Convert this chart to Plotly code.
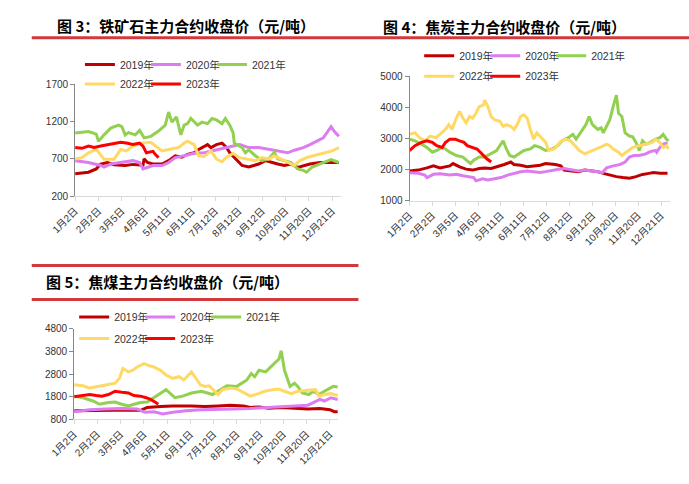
import plotly.graph_objects as go

W, H = 689, 484

years = ["2019年", "2020年", "2021年", "2022年", "2023年"]
colors = ["#C00000", "#DC7CF0", "#92D050", "#FFD966", "#FF0000"]

tick_days = [0, 21, 42, 63, 84, 105, 126, 147, 168, 189, 210, 231]
tick_labels = ["1月2日", "2月2日", "3月5日", "4月6日", "5月11日", "6月11日",
               "7月12日", "8月12日", "9月12日", "10月20日", "11月20日", "12月21日"]

# ---------------- 图3 铁矿石 ----------------
ore19_d = [0,12,19,23,29,35,45,52,61,62,65,70,78,84,90,96,101,107,111,119,122,127,132,136,139,145,150,156,161,165,171,176,182,188,194,200,205,211,220,228,237]
ore19_v = [500,520,565,630,650,620,610,625,615,700,650,630,630,675,740,720,760,780,825,890,850,890,910,850,780,680,610,590,610,630,675,650,630,610,630,585,610,630,650,650,650]
ore20_d = [0,12,23,26,32,41,52,58,61,70,78,84,90,98,107,116,124,133,142,148,156,165,174,179,185,191,197,205,211,217,223,230,233,237]
ore20_v = [675,650,610,590,630,650,675,650,565,610,610,650,715,740,775,780,805,835,870,890,850,850,825,805,795,780,815,850,890,935,980,1130,1065,1000]
ore21_d = [0,12,19,21,26,32,39,42,45,48,54,58,62,68,75,81,84,87,91,95,98,101,104,110,114,119,123,127,132,135,139,142,143,148,150,153,156,162,168,174,179,182,188,194,197,200,205,208,213,217,223,230,234,237]
ore21_v = [1044,1065,1030,935,1020,1110,1150,1130,1020,1050,1020,1080,980,1000,1070,1150,1325,1190,1260,1020,1150,1170,1240,1150,1190,1170,1240,1220,1170,1240,1150,1045,910,870,850,780,820,740,675,700,785,700,675,650,610,565,545,520,590,610,650,690,670,650]
ore22_d = [0,6,12,19,26,35,41,46,52,61,68,72,78,84,93,98,101,107,111,116,122,127,132,136,142,148,156,162,168,174,179,185,191,197,202,208,214,220,226,231,237]
ore22_v = [695,715,780,825,695,695,825,805,870,910,920,870,805,825,850,910,935,890,740,730,805,695,660,720,770,715,695,675,715,695,740,695,650,610,675,715,740,760,780,805,850]
ore23_d = [0,6,12,17,23,29,35,41,46,52,58,61,64,70,72,75]
ore23_v = [850,840,870,850,870,890,910,920,910,890,910,870,780,800,760,715]

# ---------------- 图4 焦炭 ----------------
coke19_d = [0,8,16,22,28,37,40,46,52,58,64,69,75,81,87,93,96,102,108,114,120,125,134,139,142,149,155,161,167,173,178,184,190,196,202,208,214,220,224,230,237]
coke19_v = [1950,1980,2050,2115,2050,2115,2190,2085,2010,1980,2030,2050,2030,2085,2160,2240,2160,2135,2085,2110,2135,2190,2160,2115,1980,1950,1930,1980,1950,1930,1875,1820,1770,1740,1720,1770,1840,1875,1900,1875,1875]
coke20_d = [0,8,14,16,22,28,37,43,49,55,59,61,67,72,78,84,90,96,102,108,114,120,125,131,137,142,149,155,161,167,173,177,181,187,193,198,202,206,211,217,221,226,227,230,233,237]
coke20_v = [1895,1875,1820,1740,1845,1860,1820,1845,1800,1770,1740,1635,1700,1665,1700,1740,1820,1875,1925,1950,1930,1905,1930,1980,2010,2030,1980,1950,1980,1960,1925,1895,2050,2115,2155,2240,2400,2450,2450,2500,2575,2610,2555,2710,2815,2850]
coke21_d = [0,5,11,16,21,25,30,33,37,43,49,53,56,59,64,69,75,80,83,86,89,92,96,100,105,111,115,120,125,131,136,140,146,150,153,158,162,165,168,173,176,178,181,184,187,190,192,195,198,202,205,208,211,214,217,221,226,230,233,236,238]
coke21_v = [2975,2920,2815,2710,2555,2610,2710,2660,2555,2450,2400,2295,2190,2295,2400,2400,2500,2610,2765,2920,2660,2450,2400,2500,2610,2660,2765,2710,2610,2660,2765,2920,3025,3130,2975,3235,3445,3705,3445,3290,3340,3180,3390,3600,4020,4390,3810,3705,3180,3075,3050,2870,2610,2920,2815,2870,2975,3025,3130,2975,2920]
coke22_d = [0,5,9,14,19,24,28,33,36,39,43,46,49,52,55,58,61,64,68,69,72,75,78,83,86,89,93,96,99,102,105,108,111,114,117,121,125,128,133,138,143,148,152,156,161,165,171,177,181,184,187,192,195,199,205,211,217,223,226,230,233,236,238]
coke22_v = [3130,3180,3025,2920,3075,3025,3130,3290,3445,3290,3655,3865,3655,3500,3705,3650,3810,4020,4075,4230,4020,3705,3600,3550,3390,3440,3390,3290,3445,3705,3760,3655,3290,2975,3180,3025,2870,2610,2660,2870,2975,2920,2765,2610,2500,2555,2660,2745,2815,2765,2660,2555,2450,2555,2710,2765,2815,2870,2975,2870,2710,2765,2660]
coke23_d = [0,5,11,16,21,25,30,33,37,42,46,50,53,58,62,65,68,71,75]
coke23_v = [2610,2765,2870,2920,2870,2765,2710,2870,2975,2975,2920,2870,2765,2710,2660,2555,2450,2345,2240]

# ---------------- 图5 焦煤 ----------------
coal19_d = [0,14,28,43,54,60,66,78,89,106,118,130,141,153,159,167,176,187,199,211,222,231,235,238]
coal19_v = [1185,1200,1220,1230,1220,1200,1330,1370,1400,1400,1370,1400,1430,1400,1330,1355,1300,1330,1285,1260,1285,1230,1145,1145]
coal20_d = [0,14,28,43,57,64,72,80,89,101,115,130,144,159,173,185,193,202,211,216,222,226,232,238]
coal20_v = [1145,1230,1260,1285,1260,1115,1140,1040,1115,1185,1230,1230,1260,1285,1330,1370,1400,1400,1430,1545,1685,1615,1760,1685]
coal21_d = [0,8,17,23,31,37,43,49,54,60,66,72,78,83,88,91,98,106,115,121,125,132,138,147,156,160,163,167,173,179,185,187,190,192,195,199,202,206,212,216,221,226,232,234,238]
coal21_v = [1830,1760,1615,1470,1545,1570,1470,1400,1470,1545,1570,1760,1970,2115,1900,1760,1830,1970,2045,1970,1900,2115,2285,2260,2545,2830,2685,2970,2900,3185,3470,3830,2970,2685,2260,2400,2260,1970,1900,2045,1900,2045,2185,2260,2230]
coal22_d = [0,8,14,23,31,37,41,44,49,53,57,63,67,72,78,83,89,95,99,104,106,109,114,118,122,127,130,134,141,147,153,159,164,172,179,185,190,196,202,209,218,221,226,232,238]
coal22_v = [2330,2285,2185,2260,2330,2400,2615,3045,2900,2970,3115,3260,3185,3115,2970,2760,2615,2685,2545,2830,2900,2685,2330,2260,2285,2045,1900,2115,2185,2145,1970,1830,1900,2045,2115,2145,2045,1940,2045,2085,2115,1830,1900,1940,1855]
coal23_d = [0,7,14,20,25,31,37,43,49,54,60,65,69,73,76]
coal23_v = [1800,1855,1900,1855,1830,1900,2045,2000,1970,1855,1830,1760,1685,1570,1470]

charts = [
    dict(title="<b>图 3：铁矿石主力合约收盘价（元/吨）</b>",
         series=[(ore19_d, ore19_v), (ore20_d, ore20_v), (ore21_d, ore21_v), (ore22_d, ore22_v), (ore23_d, ore23_v)],
         yticks=[200, 700, 1200, 1700]),
    dict(title="<b>图 4：焦炭主力合约收盘价（元/吨）</b>",
         series=[(coke19_d, coke19_v), (coke20_d, coke20_v), (coke21_d, coke21_v), (coke22_d, coke22_v), (coke23_d, coke23_v)],
         yticks=[1000, 2000, 3000, 4000, 5000]),
    dict(title="<b>图 5：焦煤主力合约收盘价（元/吨）</b>",
         series=[(coal19_d, coal19_v), (coal20_d, coal20_v), (coal21_d, coal21_v), (coal22_d, coal22_v), (coal23_d, coal23_v)],
         yticks=[800, 1800, 2800, 3800, 4800]),
]

for c in charts:
    for d, v in c["series"]:
        assert len(d) == len(v), (len(d), len(v))

def px(p):
    return p / W

def py(p):
    return 1 - p / H

# layout geometry (pixels)
geom = [
    dict(x0=52, x1=328, y0=80, y1=195, xmax=239, title_xy=(31, 20), leg=(57, 60, 80)),
    dict(x0=399, x1=669, y0=72, y1=199.5, xmax=239, title_xy=(369, 21), leg=(409, 51, 72)),
    dict(x0=51, x1=325, y0=331, y1=424, xmax=238.5, title_xy=(20, 282), leg=(51, 319, 341)),
]

fig = go.Figure()
font_fam = "Liberation Sans, Arial, Noto Sans CJK SC, sans-serif"
layout = dict(
    width=W, height=H, margin=dict(l=0, r=0, t=0, b=0),
    paper_bgcolor="white", plot_bgcolor="white",
    font=dict(family=font_fam, size=10, color="#333333"),
    showlegend=True, annotations=[], shapes=[],
)

legend_names = ["legend", "legend2", "legend3", "legend4", "legend5", "legend6"]

for i, (c, g) in enumerate(zip(charts, geom)):
    xa = "xaxis" if i == 0 else f"xaxis{i+1}"
    ya = "yaxis" if i == 0 else f"yaxis{i+1}"
    xr = "x" if i == 0 else f"x{i+1}"
    yr = "y" if i == 0 else f"y{i+1}"
    layout[xa] = dict(
        domain=[px(g["x0"]), px(g["x1"])], range=[0, g["xmax"]], anchor=yr,
        tickmode="array", tickvals=tick_days, ticktext=tick_labels, tickangle=-45,
        showline=True, linecolor="#d9d9d9", linewidth=1, ticks="outside", ticklen=4,
        tickcolor="#d9d9d9", showgrid=False, zeroline=False,
        tickfont=dict(size=10, color="#333333"),
    )
    yt = c["yticks"]
    layout[ya] = dict(
        domain=[py(g["y1"]), py(g["y0"])], range=[yt[0], yt[-1]], anchor=xr,
        tickmode="array", tickvals=yt,
        showline=True, linecolor="#888888", linewidth=1, ticks="outside", ticklen=4,
        tickcolor="#888888", showgrid=False, zeroline=False,
        tickfont=dict(size=10, color="#333333"),
    )
    lx, ly1, ly2 = g["leg"]
    for r, ly in enumerate((ly1, ly2)):
        layout[legend_names[2 * i + r]] = dict(
            orientation="h", x=px(lx), y=py(ly), xanchor="left", yanchor="middle",
            entrywidth=21, entrywidthmode="pixels", itemwidth=30,
            bgcolor="rgba(0,0,0,0)", borderwidth=0,
            font=dict(size=10.5, color="#333333", family=font_fam),
            traceorder="normal",
        )
    for k, (d, v) in enumerate(c["series"]):
        last_in_row = k in (2, 4)
        fig.add_trace(go.Scatter(
            x=d, y=v, mode="lines", name=years[k],
            line=dict(color=colors[k], width=3),
            xaxis=xr, yaxis=yr,
            legend=legend_names[2 * i + (0 if k < 3 else 1)],
            legendwidth=40 if last_in_row else 21,
            hoverinfo="skip",
        ))
    tx, ty = g["title_xy"]
    layout["annotations"].append(dict(
        text=c["title"], x=px(tx), y=py(ty), xref="paper", yref="paper",
        xanchor="left", yanchor="middle", align="left", width=300, showarrow=False,
        font=dict(size=15, color="#000000", family="Noto Sans CJK SC, sans-serif"),
    ))

red = "#D2393C"
layout["shapes"] = [
    dict(type="line", xref="paper", yref="paper", x0=px(7), x1=px(689), y0=py(32.5), y1=py(32.5),
         line=dict(color=red, width=3)),
    dict(type="line", xref="paper", yref="paper", x0=px(7), x1=px(346), y0=py(266), y1=py(266),
         line=dict(color=red, width=3)),
    dict(type="line", xref="paper", yref="paper", x0=px(7), x1=px(346), y0=py(301), y1=py(301),
         line=dict(color=red, width=3)),
]

fig.update_layout(**layout)
fig.write_html("out.html")
